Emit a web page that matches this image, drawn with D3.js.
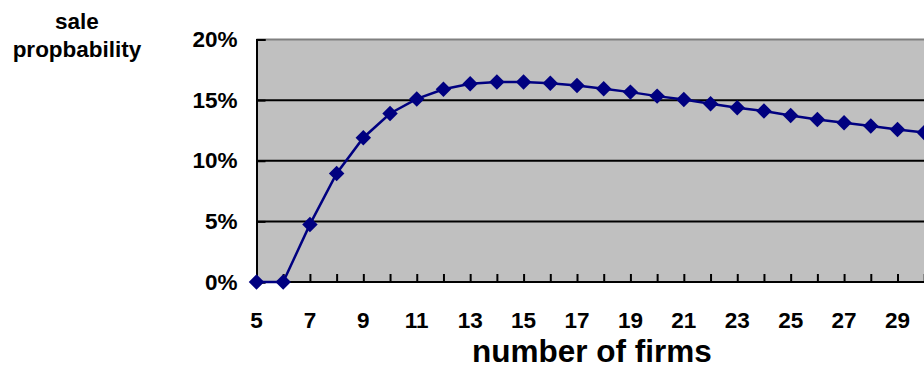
<!DOCTYPE html>
<html>
<head>
<meta charset="utf-8">
<script src="https://cdn.jsdelivr.net/npm/d3@7"></script>
<style>
html,body{margin:0;padding:0;background:#fff;overflow:hidden;}
svg{display:block;}
text{font-family:Arial,"Liberation Sans",sans-serif;font-weight:bold;fill:#000;}
</style>
</head>
<body>
<svg id="chart" width="924" height="383"></svg>
<script>
const firms = [5,6,7,8,9,10,11,12,13,14,15,16,17,18,19,20,21,22,23,24,25,26,27,28,29,30];
const saleProb = [0,0,4.75,8.95,11.9,13.9,15.1,15.9,16.35,16.5,16.5,16.4,16.2,15.94,15.66,15.33,15.06,14.7,14.38,14.1,13.74,13.4,13.14,12.86,12.57,12.32];
const yTicks = [0,5,10,15,20];
const xTickLabels = [5,7,9,11,13,15,17,19,21,23,25,27,29];

const svg = d3.select("#chart");
const pLeft = 256.5, pTop = 39.5, pBottom = 282, pRight = 960;

const x = d3.scaleLinear().domain([5,29]).range([pLeft, 897.5]);
const y = d3.scaleLinear().domain([0,20]).range([pBottom, pTop]);

svg.append("rect").attr("x", pLeft).attr("y", pTop)
  .attr("width", pRight-pLeft).attr("height", pBottom-pTop)
  .attr("fill", "#c0c0c0");
svg.append("line").attr("x1", pLeft).attr("x2", pRight).attr("y1", pTop).attr("y2", pTop)
  .attr("stroke", "#808080").attr("stroke-width", 2);

svg.append("g").selectAll("line").data(yTicks.filter(d => d>0 && d<20)).join("line")
  .attr("x1", pLeft).attr("x2", pRight)
  .attr("y1", d => y(d)).attr("y2", d => y(d))
  .attr("stroke", "#000").attr("stroke-width", 2);

const yAxis = d3.axisLeft(y).tickValues(yTicks).tickSize(-9).tickPadding(18)
  .tickFormat(d => d + "%");
const gy = svg.append("g").attr("transform", `translate(${pLeft},0)`).call(yAxis);
gy.select(".domain").attr("stroke", "#000").attr("stroke-width", 2);
gy.selectAll(".tick line").attr("stroke", "#000").attr("stroke-width", 2);
gy.selectAll(".tick text").attr("font-size", 22.5).attr("font-family", "Arial, 'Liberation Sans', sans-serif").attr("font-weight", "bold").attr("fill", "#000").attr("x", -19);

const xAxis = d3.axisBottom(x).tickValues(d3.range(5, 31)).tickSize(-8).tickFormat("");
const gx = svg.append("g").attr("transform", `translate(0,${pBottom})`).call(xAxis);
gx.select(".domain").attr("stroke", "#000").attr("stroke-width", 2).attr("d", `M${pLeft},0H${pRight}`);
gx.selectAll(".tick line").attr("stroke", "#000").attr("stroke-width", 2);

svg.append("g").selectAll("text").data(xTickLabels).join("text")
  .attr("x", d => x(d)).attr("y", 327.5)
  .attr("text-anchor", "middle").attr("font-size", 22.5)
  .text(d => d);

const line = d3.line().x((d,i) => x(firms[i])).y(d => y(d));
svg.append("path").datum(saleProb).attr("d", line)
  .attr("fill", "none").attr("stroke", "#000080").attr("stroke-width", 2.5);

svg.append("g").selectAll("path").data(saleProb).join("path")
  .attr("d", d3.symbol().type(d3.symbolSquare).size(120))
  .attr("transform", (d,i) => `translate(${x(firms[i])},${y(d)}) rotate(45)`)
  .attr("fill", "#000080");

svg.append("text").attr("x", 592).attr("y", 362).attr("text-anchor", "middle")
  .attr("font-size", 31.5).text("number of firms");
svg.append("text").attr("x", 77).attr("y", 29).attr("text-anchor", "middle")
  .attr("font-size", 22.5).text("sale");
svg.append("text").attr("x", 77).attr("y", 57).attr("text-anchor", "middle")
  .attr("font-size", 22.5).text("propbability");
</script>
</body>
</html>
